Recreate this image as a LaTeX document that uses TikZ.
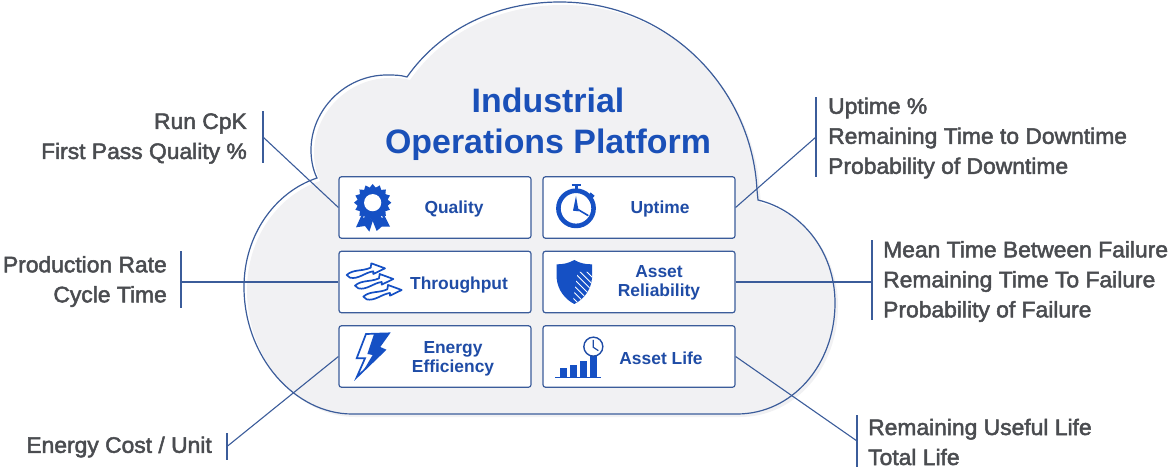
\documentclass[tikz,border=0pt]{standalone}
\usepackage{fontspec}
\setmainfont{Liberation Sans}
\newfontfamily\medfont[FakeBold=2.2,FakeStretch=1.02]{Liberation Sans}
\usetikzlibrary{calc}
\definecolor{lineblue}{HTML}{3B5C9A}
\definecolor{iconblue}{HTML}{1550C4}
\definecolor{titleblue}{HTML}{1A50B8}
\definecolor{boxtext}{HTML}{1F4CA6}
\definecolor{graytext}{HTML}{4A4C50}
\definecolor{cloudfill}{HTML}{F1F1F3}
\tikzset{
  cardbox/.style={draw=lineblue,line width=1.2pt,fill=white,rounded corners=2.5pt,minimum width=192pt,minimum height=61.5pt,inner sep=0pt},
  cardtext/.style={text=boxtext,font=\fontsize{17.4}{19}\selectfont\bfseries,align=center,inner sep=0pt},
  leftlabel/.style={text=graytext,font=\fontsize{22.4}{30}\selectfont\medfont,align=right,inner sep=0pt},
  rightlabel/.style={text=graytext,font=\fontsize{22.4}{30}\selectfont\medfont,align=left,inner sep=0pt},
  barmark/.style={fill=lineblue,draw=none,minimum width=2.2pt,inner sep=0pt},
  wire/.style={draw=lineblue,line width=1.1pt},
  zoomA/.style={shift={(330,170)},x=0.33333pt,y=-0.33333pt},
  zoomB/.style={shift={(535,170)},x=0.33333pt,y=-0.33333pt},
}
\newcommand{\cloudoutline}{
  (317,178) .. controls (275,192) and (244,235) .. (244,287)
  .. controls (244,357) and (295,414) .. (352,414) -- (737,414)
  .. controls (792,414) and (835,365) .. (835,303)
  .. controls (835,250) and (800,210) .. (758,200) -- (757,190)
  .. controls (752,90) and (670,2) .. (560,2)
  .. controls (495,2) and (440,30) .. (407,77)
  .. controls (400,75) and (395,75) .. (387,75)
  .. controls (345,75) and (311,110) .. (311,150)
  .. controls (311,160) and (313,170) .. (317,178) -- cycle}
\newcommand{\flowarrow}[2]{%
  \draw[iconblue,fill=white,line width=1.7pt,line join=round,shift={(#1,#2)}]
    (0,0) .. controls (20,-18) and (45,-10) .. (72,-22) -- (74,-35) -- (115,-20) -- (80,-3) -- (80,-11)
    .. controls (55,-8) and (35,14) .. (10,8) -- cycle;}
\begin{document}
\begin{tikzpicture}[x=1pt,y=-1pt]
\useasboundingbox (0,0) rectangle (1170,470);
% cloud
\fill[cloudfill,shift={(3,3)}] \cloudoutline;
\draw[lineblue,line width=1.2pt,line join=miter] \cloudoutline;
% title
\node[name=title,text=titleblue,font=\fontsize{33.9}{41}\selectfont\bfseries,align=center,inner sep=0pt] at (548,124) {Industrial\\Operations Platform};
% cards
\node[cardbox,name=qual] at (435,207.5) {};
\node[cardbox,name=upt] at (639,207.5) {};
\node[cardbox,name=thr] at (435,282) {};
\node[cardbox,name=rel] at (639,282) {};
\node[cardbox,name=ene] at (435,356.5) {};
\node[cardbox,name=lif] at (639,356.5) {};
\node[cardtext,name=tq] at (454,209) {Quality};
\node[cardtext,name=tu] at (660,209) {Uptime};
\node[cardtext,name=tt] at (459,285) {Throughput};
\node[cardtext,name=tr] at (659,283) {Asset\\Reliability};
\node[cardtext,name=te] at (453,359) {Energy\\Efficiency};
\node[cardtext,name=tl] at (661,358) {Asset Life};
% labels
\node[leftlabel,anchor=east,name=l1] at (247,138.5) {Run CpK\\First Pass Quality \%};
\node[leftlabel,anchor=east,name=l2] at (167,281.5) {Production Rate\\Cycle Time};
\node[leftlabel,anchor=east,name=l3] at (212,447) {Energy Cost / Unit};
\node[rightlabel,anchor=west,name=r1] at (828,138) {Uptime \%\\Remaining Time to Downtime\\Probability of Downtime};
\node[rightlabel,anchor=west,name=r2] at (883,281.5) {Mean Time Between Failure\\Remaining Time To Failure\\Probability of Failure};
\node[rightlabel,anchor=west,name=r3] at (868,442) {Remaining Useful Life\\Total Life};
% bars
\node[barmark,minimum height=52pt,name=b1] at (263,137) {};
\node[barmark,minimum height=57pt,name=b2] at (181,280) {};
\node[barmark,minimum height=27pt,name=b3] at (227,446.5) {};
\node[barmark,minimum height=80pt,name=b4] at (816,137) {};
\node[barmark,minimum height=80pt,name=b5] at (872,280) {};
\node[barmark,minimum height=52pt,name=b6] at (857,441) {};
% connectors
\draw[wire] (b1.center) -- (qual.west);
\draw[wire] (b2.center |- thr.west) -- (thr.west);
\draw[wire] (b3.center) -- (ene.west);
\draw[wire] (b4.center) -- (upt.east);
\draw[wire] (rel.east) -- (rel.east -| b5.center);
\draw[wire] (lif.east) -- (b6.center);
% --- icons: quality
\begin{scope}[zoomA]
  \fill[iconblue] (97,130) -- (78,172) -- (105,168) -- (118,185) -- (130,148) -- cycle;
  \fill[iconblue] (160,130) -- (180,170) -- (155,170) -- (140,183) -- (126,148) -- cycle;
  \draw[white,line width=1pt] (100,142) .. controls (112,130) and (122,140) .. (128,150) .. controls (136,138) and (146,132) .. (158,142);
  \fill[iconblue] plot[samples=33,domain=0:360,variable=\a] ({128+(mod(round(\a/11.25),2)==0 ? 56 : 46)*cos(\a)},{98+(mod(round(\a/11.25),2)==0 ? 56 : 46)*sin(\a)}) -- cycle;
  \fill[white] (128,98) circle[radius=8.6pt];
\end{scope}
% --- icons: throughput
\begin{scope}[zoomA]
  \flowarrow{50}{315}
  \flowarrow{75}{347}
  \flowarrow{100}{380}
\end{scope}
% --- icons: energy
\begin{scope}[zoomA]
  \draw[iconblue,fill=white,line width=1.7pt,line join=miter] (108,492) -- (177,490) -- (147,532) -- (165,540) -- (80,622) -- (105,565) -- (80,565) -- cycle;
  \fill[iconblue] (132,492) -- (177,490) -- (147,532) -- (165,540) -- (100,602) -- (128,555) -- (112,552) -- cycle;
\end{scope}
% --- icons: uptime
\begin{scope}[zoomB]
  \draw[iconblue,line width=4.6pt] (123,115) circle[radius=17.6pt];
  \draw[iconblue,line width=2pt] (110,45) -- (137,45);
  \draw[iconblue,line width=3pt] (123,45) -- (123,60);
  \draw[iconblue,line width=4pt] (163,72) -- (175,82);
  \fill[iconblue] (123,78) -- (114,122) -- (131,124) -- cycle;
  \draw[iconblue,line width=1.6pt] (123,115) -- (160,137);
\end{scope}
% --- icons: shield
\begin{scope}[zoomB]
  \def\shieldpath{(118,270) .. controls (100,280) and (85,283) .. (65,283) -- (65,325) .. controls (68,360) and (90,388) .. (118,402) .. controls (146,388) and (168,360) .. (171,325) -- (171,283) .. controls (150,283) and (136,280) .. (118,270) -- cycle}
  \fill[iconblue] \shieldpath;
  \begin{scope}
    \clip \shieldpath;
    \clip (128,306) -- (175,306) -- (175,405) -- (112,405) -- cycle;
    \foreach \d in {-200,-180,...,220}
      \draw[white,line width=0.9pt] (100+\d,290) -- (220+\d,410);
  \end{scope}
\end{scope}
% --- icons: asset life
\begin{scope}[zoomB]
  \draw[iconblue,line width=1.4pt] (60,623) -- (198,623);
  \fill[iconblue] (75,595) rectangle (95,623);
  \fill[iconblue] (105,585) rectangle (125,623);
  \fill[iconblue] (135,573) rectangle (155,623);
  \fill[iconblue] (165,550) rectangle (187,623);
  \draw[boxtext,fill=white,line width=1.4pt] (175,530) circle[radius=9.5pt];
  \draw[boxtext,line width=1.2pt] (175,510) -- (175,532) -- (190,542);
\end{scope}
\end{tikzpicture}
\end{document}
